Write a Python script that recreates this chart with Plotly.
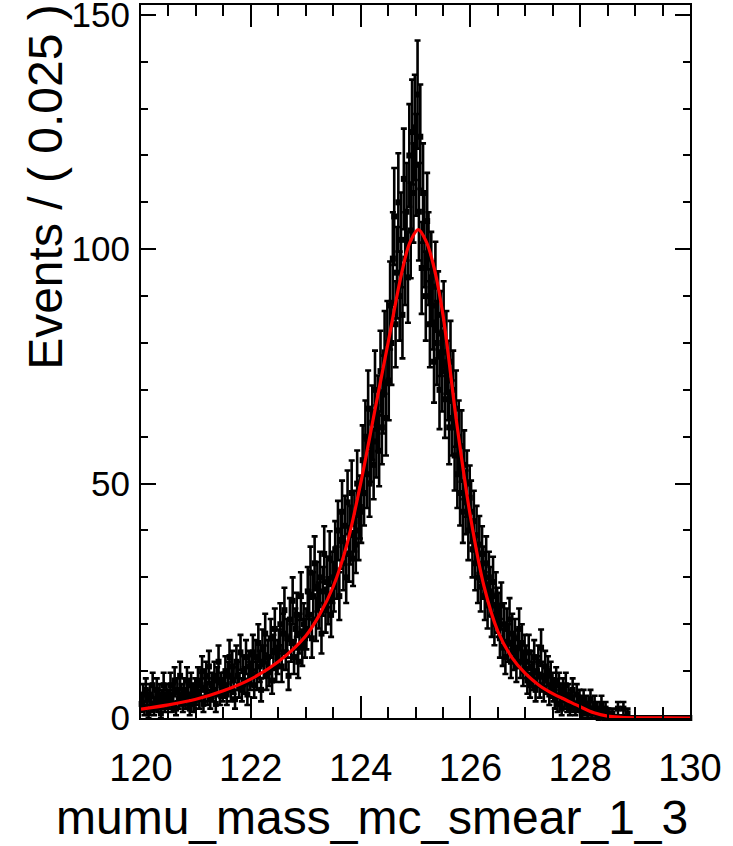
import numpy as np
import plotly.graph_objects as go

# ---- data: event counts per 0.025 bin, from 120 to 130 ----
bin_width = 0.025
x_low, x_high = 120.0, 130.0

counts_120_122 = [
    3, 5, 2, 6, 4, 1, 5, 3, 7, 2, 4, 6, 3, 5, 1, 4, 7, 3, 5, 4,
    4, 7, 3, 5, 8, 2, 6, 4, 9, 5, 3, 6, 4, 8, 5, 2, 7, 5, 3, 6,
    5, 8, 4, 7, 10, 3, 6, 9, 5, 11, 4, 7, 6, 9, 3, 8, 12, 5, 7, 6,
    7, 10, 5, 9, 13, 6, 11, 8, 4, 12, 9, 7, 14, 6, 10, 8, 13, 5, 11, 9,
]
counts_122_124 = [
    10, 14, 7, 13, 9, 16, 11, 6, 15, 12, 18, 9, 13, 10, 17, 8, 14, 19, 11, 13,
    15, 20, 11, 18, 23, 14, 17, 9, 21, 16, 25, 13, 19, 22, 12, 18, 26, 15, 20, 17,
    19, 27, 22, 31, 17, 26, 33, 21, 28, 24, 30, 18, 27, 35, 23, 29, 25, 34, 22, 30,
    28, 36, 31, 40, 26, 38, 44, 33, 41, 30, 46, 35, 39, 48, 34, 42, 37, 50, 40, 45,
]
counts_124_126 = [
    44, 55, 48, 60, 52, 66, 50, 58, 63, 54, 70, 59, 65, 57, 74, 62, 69, 78, 64, 80,
    72, 88, 80, 98, 107, 84, 95, 110, 90, 102, 86, 115, 98, 108, 94, 120, 104, 125, 112, 126,
    118, 133, 108, 124, 96, 112, 102, 90, 106, 98, 84, 94, 88, 76, 92, 80, 86, 70, 82, 74,
    84, 68, 78, 72, 62, 76, 64, 70, 56, 66, 52, 60, 48, 58, 44, 54, 46, 50, 40, 47,
]
counts_126_128 = [
    44, 36, 42, 33, 39, 30, 37, 28, 35, 31, 26, 33, 24, 30, 27, 22, 29, 20, 26, 23,
    22, 17, 24, 15, 20, 13, 19, 16, 21, 12, 18, 14, 17, 11, 15, 19, 12, 16, 10, 14,
    12, 8, 14, 7, 11, 9, 13, 6, 10, 12, 7, 15, 9, 6, 11, 8, 10, 5, 9, 7,
    6, 4, 8, 3, 7, 5, 2, 6, 4, 7, 3, 5, 2, 4, 6, 3, 2, 5, 3, 4,
]
counts_128_130 = [
    3, 1, 4, 2, 3, 1, 2, 4, 1, 2, 3, 1, 2, 0, 1, 3, 1, 0, 2, 1,
    1, 0, 0, 1, 0, 0, 0, 2, 0, 0, 0, 2, 0, 0, 1, 0, 0, 0, 0, 0,
    0, 0, 0, 0, 0, 0, 0, 0, 0, 0, 0, 0, 0, 0, 0, 0, 0, 0, 0, 0,
    0, 0, 0, 0, 0, 0, 0, 0, 0, 0, 0, 0, 0, 0, 0, 0, 0, 0, 0, 0,
]

# ---- fitted model curve ----
fit_x = [120, 120.5, 121, 121.5, 122, 122.5, 123, 123.25, 123.5, 123.75, 124,
         124.25, 124.5, 124.75, 124.9, 125.05, 125.2, 125.35, 125.5, 125.75, 126,
         126.25, 126.5, 126.75, 127, 127.25, 127.5, 127.75, 128, 128.25, 128.5,
         128.75, 129, 129.5, 130]
fit_y = [1.9, 2.8, 4.0, 5.8, 8.3, 12, 17.5, 22, 28, 37, 50,
         65, 80, 95, 101.5, 104.2, 101.5, 95.5, 86, 63, 43,
         28, 18.5, 13, 9.5, 7, 5.2, 3.8, 2.4, 1.1, 0.4,
         0.15, 0.05, 0.01, 0]

x_ticks = [120, 122, 124, 126, 128, 130]
y_ticks = [0, 50, 100, 150]
x_title = "mumu_mass_mc_smear_1_3"
y_title = "Events / ( 0.025 )"

counts = np.array(counts_120_122 + counts_122_124 + counts_124_126
                  + counts_126_128 + counts_128_130, dtype=float)
centers = x_low + bin_width * (np.arange(len(counts)) + 0.5)
errors = np.sqrt(counts)

fig = go.Figure()
fig.add_trace(go.Scatter(
    x=centers, y=counts, mode="markers",
    marker=dict(symbol="square", size=6, color="black"),
    error_y=dict(type="data", array=errors, color="black", thickness=2.6, width=3),
    hoverinfo="x+y",
    cliponaxis=False,
))
fig.add_trace(go.Scatter(
    x=fit_x, y=fit_y, mode="lines",
    line=dict(color="#ff0000", width=3.2, shape="spline", smoothing=1.0),
))

font_family = "Liberation Sans, Arial, sans-serif"
fig.update_layout(
    width=733, height=846,
    margin=dict(l=141, r=43, t=5, b=128, autoexpand=False),
    paper_bgcolor="white", plot_bgcolor="white",
    showlegend=False,
    font=dict(family=font_family, color="black"),
    xaxis=dict(
        range=[x_low, x_high], tickmode="array", tickvals=x_ticks,
        ticktext=[str(v) for v in x_ticks],
        ticks="inside", ticklen=22, tickwidth=2, tickcolor="black",
        showline=True, linewidth=2, linecolor="black", mirror="ticks",
        minor=dict(dtick=0.5, tick0=120, ticks="inside", ticklen=11, tickwidth=2, tickcolor="black"),
        tickfont=dict(size=38, family=font_family),
        ticklabelstandoff=15,
        automargin=False,
        showgrid=False, zeroline=False,
    ),
    yaxis=dict(
        range=[0, 152.1], tickmode="array", tickvals=y_ticks,
        ticktext=[str(v) for v in y_ticks],
        ticks="inside", ticklen=15, tickwidth=2, tickcolor="black",
        showline=True, linewidth=2, linecolor="black", mirror="ticks",
        minor=dict(dtick=10, tick0=0, ticks="inside", ticklen=7, tickwidth=2, tickcolor="black"),
        tickfont=dict(size=35, family=font_family),
        ticklabelstandoff=2,
        ticklabeloverflow="allow",
        automargin=False,
        showgrid=False, zeroline=False,
    ),
    annotations=[
        dict(text=x_title, xref="paper", yref="paper", x=1.0, y=-0.140,
             xanchor="right", yanchor="middle", showarrow=False,
             font=dict(size=48, family=font_family)),
        dict(text=y_title, xref="paper", yref="paper", x=-0.173, y=0.745,
             xanchor="center", yanchor="middle", textangle=-90, showarrow=False,
             font=dict(size=48, family=font_family)),
    ],
)

fig.write_html("out.html")
